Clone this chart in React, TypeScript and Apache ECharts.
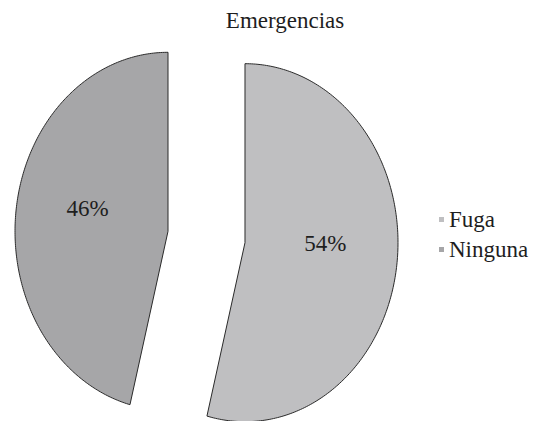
import React, { useEffect, useRef } from "react";
import * as echarts from "echarts";

// Pie data
const categories: string[] = ["Fuga", "Ninguna"];
const shares: number[] = [54, 46];
const sliceColors: string[] = ["#bfbfc1", "#a6a6a8"];
const chartTitle = "Emergencias";

// Layout of the (vertically stretched) exploded pie
const CX = 206.5;
const CY = 237;
const RX = 153;
const RY = 179;
const EXPLODE = 38.8;
const LABEL_FRAC = 0.53;
const LABEL_DY = -11;
const FONT = "Liberation Serif";
const FONT_SIZE = 23;

const total = shares.reduce((a, b) => a + b, 0);

function sliceRenderer(index: number) {
  return (_params: any, api: any) => {
    const value = api.value(0) as number;
    const before = shares.slice(0, index).reduce((a, b) => a + b, 0);
    const start = (before / total) * Math.PI * 2;
    const end = start + (value / total) * Math.PI * 2;
    const mid = (start + end) / 2;
    // angles run clockwise from 12 o'clock
    const cx = CX + EXPLODE * Math.sin(mid);
    const cy = CY - EXPLODE * (RY / RX) * Math.cos(mid);
    const steps = 240;
    const pts: number[][] = [[cx, cy]];
    for (let k = 0; k <= steps; k++) {
      const t = start + ((end - start) * k) / steps;
      pts.push([cx + RX * Math.sin(t), cy - RY * Math.cos(t)]);
    }
    const lx = cx + LABEL_FRAC * RX * Math.sin(mid);
    const ly = cy - LABEL_FRAC * RY * Math.cos(mid) + LABEL_DY;
    return {
      type: "group",
      children: [
        {
          type: "polygon",
          shape: { points: pts },
          style: {
            fill: api.visual("color"),
            stroke: "#2a2a2a",
            lineWidth: 1,
            lineJoin: "miter",
          },
        },
        {
          type: "text",
          x: lx,
          y: ly,
          style: {
            text: Math.round((value / total) * 100) + "%",
            fontFamily: FONT,
            fontSize: FONT_SIZE,
            fill: "#1e1e1e",
            align: "center",
            verticalAlign: "middle",
          },
        },
      ],
    };
  };
}

export default function App() {
  const ref = useRef<HTMLDivElement>(null);

  useEffect(() => {
    if (!ref.current) return;
    const chart = echarts.init(ref.current, undefined, { renderer: "svg" });
    chart.setOption({
      animation: false,
      backgroundColor: "#ffffff",
      title: {
        text: chartTitle,
        left: 280,
        top: 4,
        textAlign: "center",
        textStyle: {
          fontFamily: FONT,
          fontSize: FONT_SIZE,
          fontWeight: "normal",
          color: "#1e1e1e",
        },
      },
      legend: {
        orient: "vertical",
        left: 434,
        top: 203,
        itemWidth: 5,
        itemHeight: 5,
        itemGap: 7,
        icon: "rect",
        selectedMode: false,
        data: categories,
        textStyle: {
          fontFamily: FONT,
          fontSize: FONT_SIZE,
          color: "#1e1e1e",
        },
      },
      series: categories.map((name, i) => ({
        type: "custom",
        name,
        coordinateSystem: "none",
        silent: true,
        itemStyle: { color: sliceColors[i] },
        renderItem: sliceRenderer(i),
        data: [[shares[i]]],
      })),
    });
    return () => chart.dispose();
  }, []);

  return (
    <div
      ref={ref}
      style={{ position: "fixed", left: 0, top: 0, width: 537, height: 421 }}
    />
  );
}
